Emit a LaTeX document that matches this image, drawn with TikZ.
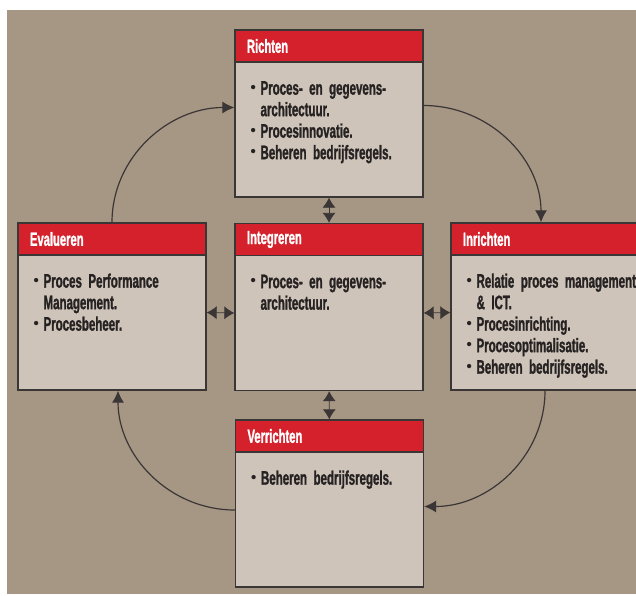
\documentclass[tikz,border=0pt]{standalone}
\usepackage{fontspec}
\setmainfont{Liberation Sans}[FakeStretch=0.59, BoldFeatures={FakeBold=1.2}]
\newfontfamily\puntfont{Liberation Sans}
\usetikzlibrary{positioning,calc,arrows.meta}
\definecolor{achtergrond}{RGB}{166,150,132}
\definecolor{vakkleur}{RGB}{206,196,186}
\definecolor{kopkleur}{RGB}{212,33,43}
\definecolor{lijnkleur}{RGB}{59,54,54}
\definecolor{tekstkleur}{RGB}{38,34,34}
\newcommand{\punt}{\makebox[10pt][l]{\raisebox{2.5pt}{\puntfont\fontsize{15}{15}\selectfont\textbullet}}}
\newcommand{\inspring}{\hspace*{10pt}}

\begin{document}
\begin{tikzpicture}[x=1pt,y=-1pt,
    vak/.style={rectangle, draw=lijnkleur, line width=1.3pt, fill=vakkleur, minimum width=188pt, minimum height=167pt, inner sep=0pt},
    kop/.style={rectangle, draw=lijnkleur, line width=1.3pt, fill=kopkleur, text=white, anchor=north west, minimum width=188pt, minimum height=32pt, text width=164pt, inner xsep=12pt, inner ysep=0pt, align=left, font=\fontsize{19}{21}\selectfont\bfseries},
    tekst/.style={anchor=base west, inner sep=0pt, text width=180pt, align=left, text=tekstkleur, font=\fontsize{19.5}{21.5}\selectfont\bfseries},
    dubbel/.style={{Latex[length=10pt,width=13pt]}-{Latex[length=10pt,width=13pt]}, draw=lijnkleur, line width=0.8pt},
    kring/.style={-{Latex[length=12pt,width=12pt]}, draw=lijnkleur, line width=1.2pt}]

    \useasboundingbox (0,0) rectangle (636,595);
    \fill[white] (0,0) rectangle (636,595);
    \fill[achtergrond] (7,10) rectangle (636,594);
    \clip (0,0) rectangle (636,595);

    \node[vak] (richten) at (329,113.5) {};
    \node[vak] (integreren) at (329,307) {};
    \node[vak] (evalueren) at (112,306.5) {};
    \node[vak] (inrichten) at (545,306.5) {};
    \node[vak] (verrichten) at (329.5,503.5) {};

    \node[kop] (richten-kop) at (richten.north west) {Richten};
    \node[kop] (integreren-kop) at (integreren.north west) {Integreren};
    \node[kop] (evalueren-kop) at (evalueren.north west) {Evalueren};
    \node[kop] (inrichten-kop) at (inrichten.north west) {Inrichten};
    \node[kop] (verrichten-kop) at (verrichten.north west) {Verrichten};

    \node[tekst] (richten-tekst) at ($(richten-kop.south west)+(16,32)$)
        {\punt Proces- en gegevens-\\ \inspring architectuur.\\ \punt Procesinnovatie.\\ \punt Beheren bedrijfsregels.};
    \node[tekst] (integreren-tekst) at ($(integreren-kop.south west)+(16,32)$)
        {\punt Proces- en gegevens-\\ \inspring architectuur.};
    \node[tekst] (evalueren-tekst) at ($(evalueren-kop.south west)+(16,32)$)
        {\punt Proces Performance\\ \inspring Management.\\ \punt Procesbeheer.};
    \node[tekst] (inrichten-tekst) at ($(inrichten-kop.south west)+(16,32)$)
        {\punt Relatie proces management\\ \inspring \& ICT.\\ \punt Procesinrichting.\\ \punt Procesoptimalisatie.\\ \punt Beheren bedrijfsregels.};
    \node[tekst] (verrichten-tekst) at ($(verrichten-kop.south west)+(16,32)$)
        {\punt Beheren bedrijfsregels.};

    \draw[dubbel] (richten) -- (integreren);
    \draw[dubbel] (integreren) -- (verrichten);
    \draw[dubbel] ([yshift=-6pt]evalueren.east) -- ([yshift=-6pt]integreren.west);
    \draw[dubbel] ([yshift=-6pt]integreren.east) -- ([yshift=-6pt]inrichten.west);

    \draw[kring] (evalueren.north) to[out=90,in=180] ([yshift=6pt]richten.west);
    \draw[kring] ([yshift=8pt]richten.east) to[out=0,in=90] ([xshift=-4pt]inrichten.north);
    \draw[kring] (inrichten.south) to[out=270,in=0] ([yshift=-3pt]verrichten.east);
    \draw[kring] ([yshift=-6.5pt]verrichten.west) to[out=180,in=270] ([xshift=6pt]evalueren.south);
\end{tikzpicture}
\end{document}
